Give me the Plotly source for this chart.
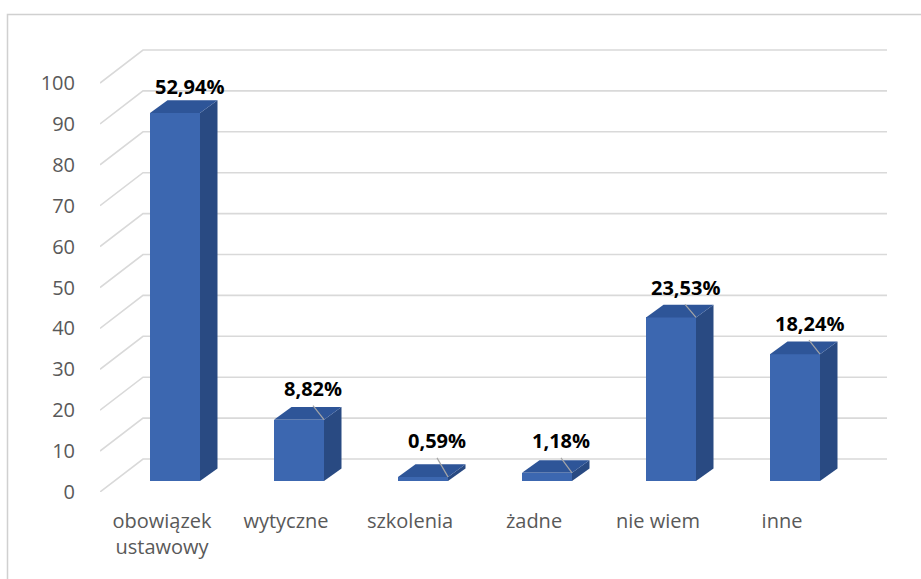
import plotly.graph_objects as go

# ---- data ----
categories = ["obowiązek<br>ustawowy", "wytyczne", "szkolenia", "żadne", "nie wiem", "inne"]
counts = [90, 15, 1, 2, 40, 31]
percent_labels = ["52,94%", "8,82%", "0,59%", "1,18%", "23,53%", "18,24%"]
y_ticks = [0, 10, 20, 30, 40, 50, 60, 70, 80, 90, 100]

# ---- style / geometry (pixel-derived constants) ----
PX_X = 124.0          # px per category
PX_Y = 4.09           # px per unit
WALL_DX = 43 / PX_X   # depth of the back wall
WALL_DY = 33 / PX_Y
BAR_OFF = 13 / PX_X   # bar front face offset from category centre
BAR_W = 50 / PX_X
BAR_BASE = 11 / PX_Y
DEP_DX = 17.5 / PX_X
DEP_DY = 12.6 / PX_Y
LABEL_DX = 14 / PX_X
label_off_px = [26, 31, 36, 32, 30, 31]
leader_gap_px = 17

FRONT = "#3c67b0"
SIDE = "#294a82"
TOP = "#2e5598"
GRID = "#d9d9d9"
TXT = "#595959"
FONT = "Open Sans"

fig = go.Figure()

# gridlines (front slant + back wall), drawn below traces
for g in y_ticks:
    x0, x1, x2 = -0.5, -0.5 + WALL_DX, len(categories) - 0.5 + WALL_DX
    y0, y1 = g, g + WALL_DY
    fig.add_shape(type="path", xref="x", yref="y", layer="below",
                  path=f"M {x0},{y0} L {x1},{y1} L {x2},{y1}",
                  line=dict(color=GRID, width=1.6))

# bars
xs = list(range(len(categories)))
fig.add_trace(go.Bar(x=[i + BAR_OFF for i in xs], y=counts, base=[BAR_BASE] * len(xs),
                     width=BAR_W, marker=dict(color=FRONT, line=dict(width=0)),
                     showlegend=False, hoverinfo="skip"))

for i, v in zip(xs, counts):
    xl = i + BAR_OFF - BAR_W / 2
    xr = i + BAR_OFF + BAR_W / 2
    top = BAR_BASE + v
    # side face
    fig.add_trace(go.Scatter(
        x=[xr, xr + DEP_DX, xr + DEP_DX, xr, xr],
        y=[BAR_BASE, BAR_BASE + DEP_DY, top + DEP_DY, top, BAR_BASE],
        fill="toself", fillcolor=SIDE, mode="lines", line=dict(width=0, color=SIDE),
        hoverinfo="skip", showlegend=False))
    # top face
    fig.add_trace(go.Scatter(
        x=[xl, xl + DEP_DX, xr + DEP_DX, xr, xl],
        y=[top, top + DEP_DY, top + DEP_DY, top, top],
        fill="toself", fillcolor=TOP, mode="lines", line=dict(width=0, color=TOP),
        hoverinfo="skip", showlegend=False))

# data labels and leader lines
lx, ly = [], []
for i, (v, lab, off) in enumerate(zip(counts, percent_labels, label_off_px)):
    top = BAR_BASE + v
    xc = i + BAR_OFF + LABEL_DX
    yc = top + off / PX_Y
    fig.add_annotation(x=xc, y=yc, text=f"<b>{lab}</b>", showarrow=False,
                       font=dict(family=FONT, size=20, color="black"),
                       xanchor="center", yanchor="middle")
    if off > 28:
        lx += [xc, i + BAR_OFF + BAR_W / 2, None]
        ly += [yc - leader_gap_px / PX_Y, top, None]
fig.add_trace(go.Scatter(x=lx, y=ly, mode="lines", line=dict(color="#a6a6a6", width=1.2),
                         hoverinfo="skip", showlegend=False))

# outer chart border (left and top)
L, R, T, B = 100, 31, 45, 87
W, H = 921, 579
pw, ph = W - L - R, H - T - B
bx0 = (7.5 - L) / pw
by1 = (H - B - 14.5) / ph
fig.add_shape(type="path", xref="paper", yref="paper",
              path=f"M {bx0} -0.3 L {bx0} {by1} L 1.1 {by1}",
              line=dict(color="#d0d0d0", width=1.5))

fig.update_layout(
    width=W, height=H,
    margin=dict(l=L, r=R, t=T, b=B),
    plot_bgcolor="white", paper_bgcolor="white",
    font=dict(family=FONT, color=TXT),
    xaxis=dict(range=[-0.5, pw / PX_X - 0.5], tickvals=xs, ticktext=categories,
               showgrid=False, zeroline=False, showline=False,
               ticks="outside", ticklen=11, tickcolor="rgba(0,0,0,0)",
               tickfont=dict(size=20, color=TXT)),
    yaxis=dict(range=[0, ph / PX_Y], tickvals=y_ticks, showgrid=False, zeroline=False,
               showline=False, ticks="outside", ticklen=20, tickcolor="rgba(0,0,0,0)",
               tickfont=dict(size=20, color=TXT)),
    bargap=0,
)

fig.write_html("out.html", config={"displayModeBar": False},
               post_script="document.body.style.margin='0';")
